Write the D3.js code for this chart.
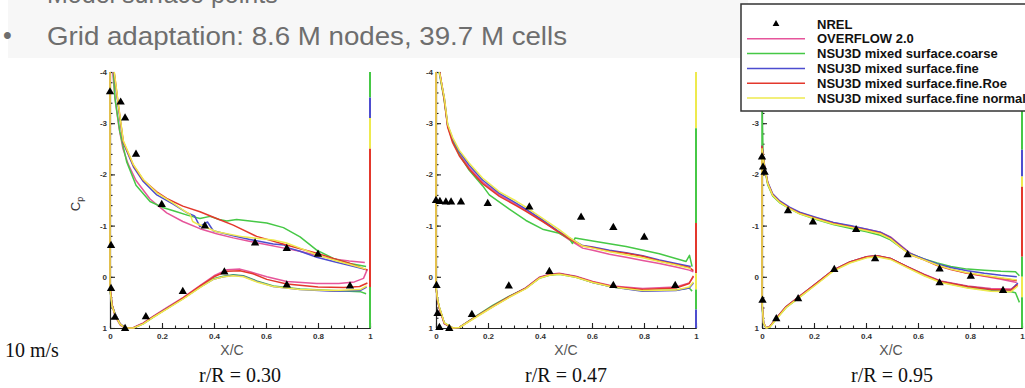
<!DOCTYPE html>
<html>
<head>
<meta charset="utf-8">
<script src="https://cdn.jsdelivr.net/npm/d3@7"></script>
<style>
  body { margin: 0; background: #fff; }
  svg { display: block; }
</style>
</head>
<body>
<svg id="chart" width="1025" height="388"></svg>
<script>
const seriesNames = ["OVERFLOW 2.0", "NSU3D mixed surface.coarse", "NSU3D mixed surface.fine",
  "NSU3D mixed surface.fine.Roe", "NSU3D mixed surface.fine normal"];
const seriesColors = ["#e6559b", "#46c846", "#4d4dcf", "#e3382c", "#eeea4e"];
const stationLabels = ["r/R = 0.30", "r/R = 0.47", "r/R = 0.95"];
const xTicks = [0, 0.2, 0.4, 0.6, 0.8, 1];
const yTicks = [-4, -3, -2, -1, 0, 1];

// r/R = 0.30  -- [x/c, Cp], upper surface LE -> TE, lower surface LE -> TE
const p1_ovf_up = [[0.003,-4.5],[0.012,-3.9],[0.02,-3.45],[0.035,-2.9],[0.05,-2.5],[0.07,-2.2],[0.1,-1.88],[0.154,-1.52],[0.218,-1.25],[0.28,-1.08],[0.346,-0.94],[0.41,-0.84],[0.474,-0.76],[0.54,-0.69],[0.6,-0.63],[0.67,-0.56],[0.73,-0.5],[0.8,-0.41],[0.86,-0.35],[0.92,-0.31],[0.98,-0.28]];
const p1_ovf_lo = [[0,-4.5],[0,0.2],[0.008,0.55],[0.02,0.78],[0.04,0.95],[0.06,1.0],[0.09,0.99],[0.128,0.9],[0.167,0.77],[0.218,0.6],[0.282,0.4],[0.346,0.17],[0.4,-0.02],[0.45,-0.14],[0.5,-0.15],[0.538,-0.1],[0.603,0.0],[0.68,0.09],[0.795,0.13],[0.88,0.13],[0.94,0.1],[0.975,0.03],[0.99,-0.15]];
const p1_crs_up = [[0.004,-4.5],[0.013,-4.0],[0.019,-3.49],[0.038,-2.83],[0.064,-2.25],[0.1,-1.79],[0.154,-1.47],[0.2,-1.36],[0.25,-1.28],[0.3,-1.2],[0.346,-1.14],[0.385,-1.18],[0.42,-1.12],[0.449,-1.09],[0.487,-1.12],[0.538,-1.09],[0.603,-1.05],[0.667,-0.96],[0.731,-0.78],[0.795,-0.52],[0.859,-0.36],[0.923,-0.26],[0.985,-0.2]];
const p1_crs_lo = [[0,-4.5],[0,0.25],[0.008,0.55],[0.019,0.72],[0.038,0.92],[0.058,1.0],[0.09,1.0],[0.128,0.92],[0.167,0.79],[0.218,0.62],[0.282,0.42],[0.346,0.2],[0.397,0.04],[0.436,-0.01],[0.474,-0.04],[0.513,-0.02],[0.564,0.08],[0.628,0.18],[0.731,0.24],[0.859,0.27],[0.962,0.29],[0.985,0.33]];
const p1_fine_up = [[0.003,-4.5],[0.019,-3.85],[0.032,-3.33],[0.051,-2.62],[0.09,-2.15],[0.128,-1.86],[0.18,-1.6],[0.243,-1.42],[0.3,-1.24],[0.325,-1.19],[0.346,-0.98],[0.36,-1.03],[0.375,-1.07],[0.397,-0.9],[0.474,-0.8],[0.538,-0.73],[0.628,-0.64],[0.67,-0.62],[0.69,-0.56],[0.731,-0.5],[0.795,-0.38],[0.859,-0.3],[0.923,-0.22],[0.985,-0.14]];
const p1_fine_lo = [[0,-4.5],[0,0.25],[0.008,0.56],[0.019,0.71],[0.038,0.91],[0.058,1.0],[0.09,1.0],[0.128,0.91],[0.167,0.78],[0.218,0.62],[0.282,0.42],[0.346,0.2],[0.397,0.05],[0.436,0.0],[0.474,-0.03],[0.513,-0.01],[0.564,0.09],[0.628,0.19],[0.731,0.25],[0.859,0.28],[0.962,0.27],[0.987,0.2]];
const p1_roe_up = [[0.003,-4.5],[0.019,-3.88],[0.032,-3.36],[0.051,-2.64],[0.09,-2.18],[0.128,-1.89],[0.18,-1.66],[0.218,-1.53],[0.28,-1.38],[0.346,-1.27],[0.41,-1.14],[0.474,-1.01],[0.564,-0.79],[0.679,-0.62],[0.795,-0.46],[0.859,-0.36],[0.923,-0.26],[0.99,-0.13]];
const p1_roe_lo = [[0,-4.5],[0,0.2],[0.008,0.55],[0.02,0.75],[0.04,0.93],[0.06,1.0],[0.09,1.0],[0.128,0.91],[0.167,0.78],[0.218,0.62],[0.282,0.41],[0.346,0.18],[0.4,0.0],[0.45,-0.11],[0.5,-0.12],[0.55,-0.06],[0.603,0.05],[0.68,0.14],[0.8,0.2],[0.9,0.21],[0.96,0.19],[0.99,0.12]];
const p1_nrm_up = [[0.003,-4.5],[0.019,-3.9],[0.032,-3.38],[0.051,-2.66],[0.09,-2.19],[0.128,-1.9],[0.18,-1.64],[0.243,-1.44],[0.282,-1.3],[0.308,-1.22],[0.318,-1.08],[0.333,-1.04],[0.41,-0.88],[0.513,-0.78],[0.628,-0.72],[0.679,-0.66],[0.731,-0.56],[0.795,-0.43],[0.859,-0.33],[0.923,-0.24],[0.985,-0.15]];
const p1_nrm_lo = [[0,-4.5],[0,0.25],[0.008,0.57],[0.019,0.73],[0.038,0.92],[0.058,1.0],[0.09,1.0],[0.128,0.92],[0.167,0.79],[0.218,0.63],[0.282,0.43],[0.346,0.21],[0.397,0.05],[0.436,0.0],[0.474,-0.02],[0.513,0.0],[0.564,0.1],[0.628,0.19],[0.731,0.25],[0.859,0.27],[0.962,0.25],[0.987,0.18]];
const p1_nrel = [[0,-3.62],[0.041,-3.42],[0.058,-3.11],[0.1,-2.4],[0.199,-1.42],[0.365,-1.0],[0.558,-0.67],[0.68,-0.56],[0.8,-0.45],
  [0.004,-0.62],[0.004,0.22],[0.019,0.78],[0.058,1.0],[0.138,0.77],[0.28,0.28],[0.44,-0.1],[0.68,0.15],[0.923,0.17]];
// trailing-edge vertical traces: [series, Cp from, Cp to]
const p1_te = [[1,-4.5,-3.5],[2,-3.5,-3.1],[4,-3.1,-2.5],[3,-2.5,0.2],[1,0.2,1.0]];

// r/R = 0.47
const p2_ovf_up = [[0.003,-4.6],[0.014,-4.0],[0.032,-3.47],[0.045,-2.94],[0.064,-2.66],[0.09,-2.4],[0.128,-2.13],[0.179,-1.85],[0.244,-1.6],[0.308,-1.41],[0.346,-1.3],[0.41,-1.09],[0.474,-0.86],[0.513,-0.72],[0.564,-0.56],[0.603,-0.52],[0.667,-0.44],[0.731,-0.38],[0.795,-0.32],[0.859,-0.26],[0.923,-0.19],[0.974,-0.13],[0.99,-0.1]];
const p2_ovf_lo = [[0,-4.6],[0,0.2],[0.006,0.46],[0.013,0.62],[0.032,0.92],[0.064,1.0],[0.09,0.99],[0.154,0.78],[0.218,0.58],[0.282,0.39],[0.346,0.21],[0.397,0.01],[0.436,-0.05],[0.474,-0.07],[0.538,-0.01],[0.603,0.09],[0.679,0.18],[0.795,0.23],[0.923,0.2],[0.974,0.12],[0.99,0.0]];
const p2_crs_up = [[0.004,-4.6],[0.012,-4.0],[0.03,-3.5],[0.045,-2.95],[0.064,-2.66],[0.09,-2.38],[0.128,-2.08],[0.179,-1.78],[0.205,-1.6],[0.282,-1.32],[0.346,-1.1],[0.41,-0.93],[0.474,-0.85],[0.513,-0.74],[0.525,-0.65],[0.535,-0.76],[0.603,-0.7],[0.731,-0.59],[0.859,-0.45],[0.962,-0.3],[0.975,-0.42],[0.985,-0.2]];
const p2_crs_lo = [[0,-4.6],[0,0.2],[0.006,0.45],[0.013,0.6],[0.032,0.9],[0.064,1.0],[0.09,0.99],[0.154,0.77],[0.218,0.56],[0.282,0.38],[0.346,0.22],[0.397,0.03],[0.436,-0.03],[0.474,-0.05],[0.538,0.01],[0.603,0.11],[0.679,0.2],[0.795,0.27],[0.923,0.26],[0.974,0.22],[0.985,0.28]];
const p2_fine_up = [[0.003,-4.6],[0.013,-4.0],[0.032,-3.49],[0.045,-2.96],[0.064,-2.7],[0.09,-2.44],[0.128,-2.18],[0.179,-1.89],[0.244,-1.63],[0.308,-1.44],[0.346,-1.32],[0.41,-1.11],[0.474,-0.88],[0.513,-0.76],[0.564,-0.61],[0.603,-0.58],[0.667,-0.52],[0.731,-0.47],[0.795,-0.41],[0.859,-0.33],[0.923,-0.26],[0.98,-0.2]];
const p2_fine_lo = [[0,-4.6],[0,0.2],[0.006,0.45],[0.013,0.6],[0.032,0.91],[0.064,1.0],[0.09,0.99],[0.154,0.78],[0.218,0.58],[0.282,0.39],[0.346,0.22],[0.397,0.02],[0.436,-0.04],[0.474,-0.06],[0.538,0.0],[0.603,0.11],[0.679,0.2],[0.795,0.28],[0.923,0.27],[0.974,0.22],[0.99,0.12]];
const p2_roe_up = [[0.003,-4.6],[0.014,-4.0],[0.032,-3.45],[0.045,-2.92],[0.064,-2.62],[0.09,-2.36],[0.128,-2.1],[0.179,-1.82],[0.244,-1.57],[0.308,-1.39],[0.346,-1.28],[0.41,-1.08],[0.474,-0.87],[0.513,-0.74],[0.564,-0.6],[0.603,-0.57],[0.667,-0.5],[0.731,-0.46],[0.795,-0.4],[0.859,-0.31],[0.923,-0.24],[0.975,-0.18],[0.99,-0.12]];
const p2_roe_lo = [[0,-4.6],[0,0.2],[0.006,0.46],[0.013,0.61],[0.032,0.91],[0.064,1.0],[0.09,0.99],[0.154,0.78],[0.218,0.58],[0.282,0.39],[0.346,0.22],[0.397,0.02],[0.436,-0.04],[0.474,-0.06],[0.538,0.0],[0.603,0.1],[0.679,0.19],[0.795,0.25],[0.923,0.22],[0.974,0.13],[0.99,-0.02]];
const p2_nrm_up = [[0.003,-4.6],[0.013,-4.0],[0.032,-3.5],[0.045,-2.98],[0.064,-2.72],[0.09,-2.47],[0.128,-2.22],[0.179,-1.93],[0.244,-1.66],[0.308,-1.48],[0.346,-1.36],[0.41,-1.14],[0.474,-0.92],[0.513,-0.77],[0.564,-0.6],[0.603,-0.56],[0.667,-0.49],[0.731,-0.43],[0.795,-0.37],[0.859,-0.3],[0.923,-0.23],[0.98,-0.16]];
const p2_nrm_lo = [[0,-4.6],[0,0.2],[0.006,0.44],[0.013,0.59],[0.032,0.9],[0.064,1.0],[0.09,0.99],[0.154,0.79],[0.218,0.59],[0.282,0.4],[0.346,0.23],[0.397,0.03],[0.436,-0.03],[0.474,-0.05],[0.538,0.01],[0.603,0.11],[0.679,0.2],[0.795,0.27],[0.923,0.26],[0.974,0.2],[0.99,0.1]];
const p2_nrel = [[0,-1.5],[0.015,-1.48],[0.038,-1.47],[0.058,-1.47],[0.096,-1.47],[0.199,-1.44],[0.359,-1.37],[0.558,-1.17],[0.682,-0.97],[0.801,-0.78],
  [0.002,0.16],[0.006,0.71],[0.013,0.98],[0.051,1.0],[0.138,0.73],[0.28,0.17],[0.436,-0.11],[0.682,0.16],[0.92,0.16]];
const p2_te = [[4,-4.6,-2.9],[1,-2.9,-1.05],[3,-1.05,-0.07],[4,-0.07,0.25],[1,0.25,0.64],[2,0.64,1.0]];

// r/R = 0.95
const p3_ovf_up = [[0,-2.5],[0.01,-2.15],[0.022,-1.83],[0.041,-1.6],[0.067,-1.47],[0.106,-1.34],[0.145,-1.25],[0.209,-1.15],[0.274,-1.06],[0.338,-0.99],[0.403,-0.93],[0.455,-0.87],[0.494,-0.78],[0.532,-0.62],[0.571,-0.46],[0.623,-0.34],[0.674,-0.23],[0.726,-0.15],[0.79,-0.07],[0.855,-0.01],[0.919,0.05],[0.98,0.11]];
const p3_ovf_lo = [[0,-2.5],[0,0.5],[0.006,0.9],[0.016,1.0],[0.03,0.97],[0.055,0.81],[0.093,0.59],[0.139,0.41],[0.209,0.13],[0.274,-0.13],[0.338,-0.29],[0.403,-0.39],[0.442,-0.41],[0.494,-0.36],[0.558,-0.2],[0.623,-0.05],[0.687,0.08],[0.79,0.18],[0.88,0.23],[0.958,0.24],[0.98,0.15]];
const p3_crs_up = [[0,-3.3],[0.004,-2.4],[0.01,-2.12],[0.022,-1.8],[0.041,-1.58],[0.067,-1.45],[0.106,-1.33],[0.145,-1.23],[0.209,-1.12],[0.274,-1.02],[0.338,-0.95],[0.403,-0.88],[0.455,-0.81],[0.494,-0.72],[0.532,-0.58],[0.571,-0.45],[0.623,-0.35],[0.674,-0.27],[0.726,-0.2],[0.79,-0.15],[0.855,-0.13],[0.919,-0.11],[0.975,-0.1],[0.99,-0.02]];
const p3_crs_lo = [[0,-3.3],[0,0.55],[0.006,0.92],[0.016,1.0],[0.03,0.98],[0.055,0.82],[0.093,0.6],[0.139,0.42],[0.209,0.14],[0.274,-0.12],[0.338,-0.28],[0.403,-0.38],[0.442,-0.4],[0.494,-0.35],[0.558,-0.19],[0.623,-0.03],[0.687,0.1],[0.79,0.21],[0.88,0.27],[0.958,0.29],[0.975,0.31],[0.99,0.5]];
const p3_fine_up = [[0,-2.55],[0.01,-2.17],[0.022,-1.85],[0.041,-1.62],[0.067,-1.49],[0.106,-1.36],[0.145,-1.26],[0.209,-1.16],[0.274,-1.06],[0.338,-1.0],[0.403,-0.93],[0.455,-0.87],[0.494,-0.77],[0.532,-0.61],[0.571,-0.45],[0.623,-0.35],[0.674,-0.25],[0.726,-0.18],[0.79,-0.12],[0.855,-0.07],[0.919,-0.03],[0.98,0.0]];
const p3_fine_lo = [[0,-2.55],[0,0.5],[0.006,0.9],[0.016,1.0],[0.03,0.97],[0.055,0.81],[0.093,0.58],[0.139,0.4],[0.209,0.13],[0.274,-0.13],[0.338,-0.29],[0.403,-0.39],[0.442,-0.41],[0.494,-0.36],[0.558,-0.2],[0.623,-0.04],[0.687,0.09],[0.79,0.19],[0.88,0.25],[0.958,0.26],[0.984,0.12]];
const p3_roe_up = [[0,-2.55],[0.01,-2.15],[0.022,-1.83],[0.041,-1.6],[0.067,-1.47],[0.106,-1.34],[0.145,-1.24],[0.209,-1.14],[0.274,-1.04],[0.338,-0.98],[0.403,-0.91],[0.455,-0.85],[0.494,-0.75],[0.532,-0.59],[0.571,-0.43],[0.623,-0.33],[0.674,-0.22],[0.726,-0.14],[0.79,-0.07],[0.855,-0.02],[0.919,0.03],[0.98,0.07]];
const p3_roe_lo = [[0,-2.55],[0,0.5],[0.006,0.9],[0.016,1.0],[0.03,0.97],[0.055,0.81],[0.093,0.58],[0.139,0.4],[0.209,0.13],[0.274,-0.13],[0.338,-0.29],[0.403,-0.39],[0.442,-0.41],[0.494,-0.36],[0.558,-0.2],[0.623,-0.04],[0.687,0.09],[0.79,0.19],[0.88,0.25],[0.958,0.26],[0.984,0.15]];
const p3_nrm_up = [[0,-2.5],[0.01,-2.14],[0.022,-1.82],[0.041,-1.59],[0.067,-1.46],[0.106,-1.33],[0.145,-1.23],[0.209,-1.13],[0.274,-1.03],[0.338,-0.97],[0.403,-0.9],[0.455,-0.84],[0.494,-0.74],[0.532,-0.58],[0.571,-0.43],[0.623,-0.33],[0.674,-0.23],[0.726,-0.15],[0.79,-0.08],[0.855,-0.03],[0.919,0.02],[0.98,0.06]];
const p3_nrm_lo = [[0,-2.5],[0,0.5],[0.006,0.9],[0.016,1.0],[0.03,0.98],[0.055,0.83],[0.093,0.6],[0.139,0.42],[0.209,0.15],[0.274,-0.11],[0.338,-0.27],[0.403,-0.37],[0.442,-0.39],[0.494,-0.34],[0.558,-0.18],[0.623,-0.02],[0.687,0.11],[0.79,0.22],[0.88,0.28],[0.958,0.29],[0.984,0.18]];
const p3_nrel = [[0,-2.35],[0.004,-2.15],[0.01,-2.05],[0.1,-1.3],[0.196,-1.08],[0.362,-0.93],[0.56,-0.44],[0.683,-0.16],[0.803,-0.02],
  [0.002,0.45],[0.055,0.81],[0.139,0.42],[0.278,-0.15],[0.435,-0.36],[0.683,0.11],[0.927,0.26]];
const p3_te = [[1,-3.3,-2.48],[2,-2.48,-1.96],[4,-1.96,-1.76],[3,-1.76,-0.39],[1,-0.39,0.0],[4,0.0,0.4],[1,0.4,1.0]];

const panels = [
  {label: stationLabels[0], upper: [p1_ovf_up, p1_crs_up, p1_fine_up, p1_roe_up, p1_nrm_up],
   lower: [p1_ovf_lo, p1_crs_lo, p1_fine_lo, p1_roe_lo, p1_nrm_lo], nrel: p1_nrel, te: p1_te},
  {label: stationLabels[1], upper: [p2_ovf_up, p2_crs_up, p2_fine_up, p2_roe_up, p2_nrm_up],
   lower: [p2_ovf_lo, p2_crs_lo, p2_fine_lo, p2_roe_lo, p2_nrm_lo], nrel: p2_nrel, te: p2_te},
  {label: stationLabels[2], upper: [p3_ovf_up, p3_crs_up, p3_fine_up, p3_roe_up, p3_nrm_up],
   lower: [p3_ovf_lo, p3_crs_lo, p3_fine_lo, p3_roe_lo, p3_nrm_lo], nrel: p3_nrel, te: p3_te}
];

const svg = d3.select("#chart");
const sans = "'Liberation Sans', Arial, sans-serif";
const serif = "'Liberation Serif', 'Times New Roman', serif";

const panelLeft = [110, 436, 762], panelW = 260, plotTop = 72, plotBottom = 328;
const xLabelAt = [232, 566, 891];

// slide header
svg.append("rect").attr("x", 8).attr("y", 0).attr("width", 740).attr("height", 58).attr("fill", "#f7f7f7");
svg.append("text").attr("x", 47).attr("y", 2.5).attr("font-family", sans).attr("font-size", 25)
  .attr("fill", "#6e6e6e").text("Model surface points");
svg.append("text").attr("x", 3).attr("y", 44).attr("font-family", sans).attr("font-size", 25)
  .attr("fill", "#6e6e6e").text("\u2022");
svg.append("text").attr("x", 47).attr("y", 45).attr("font-family", sans).attr("font-size", 25)
  .attr("textLength", 520).attr("lengthAdjust", "spacingAndGlyphs")
  .attr("fill", "#6e6e6e").text("Grid adaptation: 8.6 M nodes, 39.7 M cells");

svg.append("text").attr("x", 5).attr("y", 357).attr("font-family", serif).attr("font-size", 20)
  .attr("fill", "#111").text("10 m/s");

panels.forEach(function (p, i) {
  const x = d3.scaleLinear().domain([0, 1]).range([panelLeft[i], panelLeft[i] + panelW]);
  const y = d3.scaleLinear().domain([-4, 1]).range([plotTop, plotBottom]);
  const g = svg.append("g");

  svg.append("clipPath").attr("id", "clip" + i).append("rect")
    .attr("x", x(0) - 3).attr("y", plotTop).attr("width", panelW + 6).attr("height", plotBottom - plotTop + 1);

  // minor ticks
  g.append("g").attr("transform", `translate(${x(0)},0)`)
    .call(d3.axisLeft(y).tickValues(d3.range(-4, 1.001, 0.2)).tickSize(-2.5).tickSizeOuter(0).tickFormat(""));
  g.append("g").attr("transform", `translate(0,${plotBottom})`)
    .call(d3.axisBottom(x).tickValues(d3.range(0, 1.001, 0.05)).tickSize(-2.5).tickSizeOuter(0).tickFormat(""));

  const yAxis = g.append("g").attr("transform", `translate(${x(0)},0)`)
    .call(d3.axisLeft(y).tickValues(yTicks).tickSize(-5).tickSizeOuter(0).tickPadding(3)
      .tickFormat(function (d) { return d < 0 ? "-" + Math.abs(d) : d; }));
  const xAxis = g.append("g").attr("transform", `translate(0,${plotBottom})`)
    .call(d3.axisBottom(x).tickValues(xTicks).tickSize(-5).tickSizeOuter(0).tickPadding(5)
      .tickFormat(function (d) { return d === 0 || d === 1 ? d : d.toFixed(1); }));

  g.selectAll(".domain, .tick line").attr("stroke", "#222").attr("stroke-width", 1.1);
  [yAxis, xAxis].forEach(function (a) {
    a.selectAll("text").attr("font-family", sans).attr("font-size", 8).attr("font-weight", "bold").attr("fill", "#333");
  });

  const line = d3.line().x(function (d) { return x(d[0]); }).y(function (d) { return y(d[1]); });
  const curves = g.append("g").attr("clip-path", `url(#clip${i})`);

  p.upper.forEach(function (up, s) {
    const pts = up.slice().reverse().concat(p.lower[s]);
    curves.append("path")
      .attr("d", line(pts))
      .attr("fill", "none")
      .attr("stroke", seriesColors[s])
      .attr("stroke-width", 1.5)
      .attr("stroke-linejoin", "round");
  });

  curves.selectAll("line.te").data(p.te).enter().append("line")
    .attr("class", "te")
    .attr("x1", x(1)).attr("x2", x(1))
    .attr("y1", function (d) { return y(d[1]); })
    .attr("y2", function (d) { return y(d[2]); })
    .attr("stroke", function (d) { return seriesColors[d[0]]; })
    .attr("stroke-width", 2);

  g.selectAll("path.nrel").data(p.nrel).enter().append("path")
    .attr("class", "nrel")
    .attr("d", d3.symbol(d3.symbolTriangle, 30))
    .attr("transform", function (d) { return `translate(${x(d[0])},${y(d[1]) + 0.5})`; })
    .attr("fill", "#000");

  g.append("text").attr("x", xLabelAt[i]).attr("y", 355).attr("text-anchor", "middle")
    .attr("font-family", sans).attr("font-size", 14).attr("fill", "#555").text("X/C");
  g.append("text").attr("x", x(0.5)).attr("y", 382).attr("text-anchor", "middle")
    .attr("font-family", serif).attr("font-size", 20).attr("fill", "#111").text(p.label);
});

// Cp label on first panel
const cp = svg.append("text").attr("transform", "translate(80,204) rotate(-90)")
  .attr("text-anchor", "middle").attr("font-family", sans).attr("font-size", 13).attr("fill", "#333");
cp.append("tspan").text("C");
cp.append("tspan").attr("dy", 3).attr("font-size", 9).text("p");

// legend
const lg = svg.append("g");
lg.append("rect").attr("x", 741).attr("y", 4).attr("width", 300).attr("height", 107)
  .attr("fill", "#fff").attr("stroke", "#333").attr("stroke-width", 1.5);
const legendRows = ["NREL"].concat(seriesNames);
const rowY = d3.scalePoint().domain(legendRows).range([24, 98]);
legendRows.forEach(function (name, k) {
  const cy = rowY(name);
  if (k === 0) {
    lg.append("path").attr("d", d3.symbol(d3.symbolTriangle, 20))
      .attr("transform", `translate(776,${cy})`).attr("fill", "#000");
  } else {
    lg.append("line").attr("x1", 747).attr("x2", 805).attr("y1", cy).attr("y2", cy)
      .attr("stroke", seriesColors[k - 1]).attr("stroke-width", 1.5);
  }
  lg.append("text").attr("x", 817).attr("y", cy).attr("dy", "0.36em")
    .attr("font-family", sans).attr("font-size", 13).attr("font-weight", "bold")
    .attr("fill", "#111").text(name);
});
</script>
</body>
</html>
